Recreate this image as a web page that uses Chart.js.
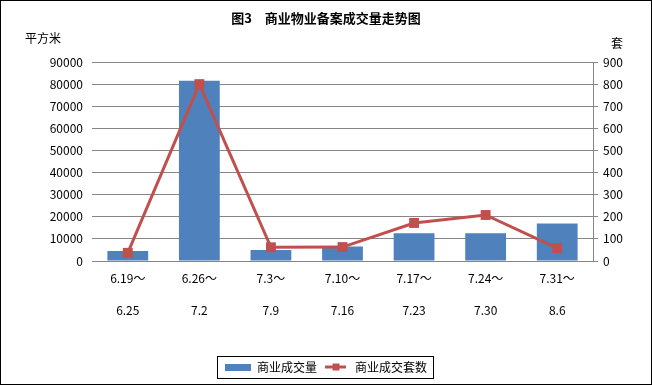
<!DOCTYPE html>
<html>
<head>
<meta charset="utf-8">
<script src="https://cdn.jsdelivr.net/npm/chart.js@4/dist/chart.umd.min.js"></script>
<style>
  html, body { margin: 0; padding: 0; background: #fff; }
  #wrap { width: 652px; height: 385px; }
</style>
</head>
<body>
<div id="wrap"><canvas id="chart" width="652" height="385"></canvas></div>
<script>
let startLabels = ["6.19～", "6.26～", "7.3～", "7.10～", "7.17～", "7.24～", "7.31～"]
let endLabels = ["6.25", "7.2", "7.9", "7.16", "7.23", "7.30", "8.6"]
let areaValues = [4500, 81500, 5000, 6600, 12500, 12500, 17000]
let unitValues = [37, 800, 62, 63, 172, 208, 58]

let blue = "#4F81BD"
let red = "#C0504D"
let gridGray = "#868686"
let font = "'Noto Sans CJK SC', 'Liberation Sans', sans-serif"

// small legend icons
function makeIcon(w, h, draw) {
    let c = document.createElement("canvas")
    c.width = w
    c.height = h
    draw(c.getContext("2d"))
    return c
}
let barIcon = makeIcon(26, 7, (g) => {
    g.fillStyle = blue
    g.fillRect(0, 0, 26, 7)
})
let lineIcon = makeIcon(21, 9, (g) => {
    g.fillStyle = red
    g.fillRect(0, 3, 21, 3)
    g.fillRect(7, 1, 7, 7)
})

let extras = {
    id: "extras",
    afterDraw(chart) {
        let ctx = chart.ctx
        ctx.save()
        ctx.fillStyle = "#000"
        ctx.font = "bold 13px " + font
        ctx.textAlign = "center"
        ctx.textBaseline = "middle"
        ctx.fillText("图3　商业物业备案成交量走势图", 326, 18)
        ctx.font = "12px " + font
        ctx.textAlign = "left"
        ctx.fillText("平方米", 25, 38)
        ctx.fillText("套", 611, 43)

        // legend frame
        let boxes = chart.legend.legendHitBoxes
        if (boxes && boxes.length) {
            let l = Math.min(...boxes.map(b => b.left)) - 8
            let r = Math.max(...boxes.map(b => b.left + b.width)) + 6
            let t = Math.min(...boxes.map(b => b.top)) - 5
            let bt = Math.max(...boxes.map(b => b.top + b.height)) + 5
            ctx.strokeStyle = "#000"
            ctx.lineWidth = 1
            ctx.strokeRect(Math.round(l) + 0.5, Math.round(t) + 0.5, Math.round(r - l), Math.round(bt - t))
        }

        // outer frame
        ctx.strokeStyle = "#000"
        ctx.strokeRect(0.5, 0.5, 651, 384)
        ctx.restore()
    }
}

let chartData = {
    labels: startLabels.map((s, i) => [s, endLabels[i]]),
    datasets: [
        {
            type: "bar",
            label: "商业成交量",
            data: areaValues,
            backgroundColor: blue,
            yAxisID: "y",
            barPercentage: 0.57,
            categoryPercentage: 1,
            order: 1,
        },
        {
            type: "line",
            label: "商业成交套数",
            data: unitValues,
            borderColor: red,
            backgroundColor: red,
            borderWidth: 3,
            pointStyle: "rect",
            pointRadius: 7,
            pointHoverRadius: 7,
            pointBackgroundColor: red,
            pointBorderColor: red,
            pointBorderWidth: 0,
            yAxisID: "y2",
            tension: 0,
            order: 0,
        },
    ],
}

let plainNumber = (v) => String(v)

let chartOptions = {
    responsive: false,
    animation: false,
    layout: {
        padding: { top: 62, left: 0, right: 0, bottom: 2 },
    },
    plugins: {
        title: { display: false },
        tooltip: { enabled: false },
        legend: {
            position: "bottom",
            labels: {
                usePointStyle: true,
                pointStyleWidth: 26,
                padding: 6,
                color: "#000",
                font: { family: font, size: 12 },
                generateLabels(chart) {
                    let items = Chart.defaults.plugins.legend.labels.generateLabels(chart)
                    items.sort((a, b) => a.datasetIndex - b.datasetIndex)
                    items.forEach(it => {
                        it.pointStyle = it.datasetIndex === 0 ? barIcon : lineIcon
                    })
                    return items
                },
            },
        },
    },
    scales: {
        x: {
            grid: { display: false, drawTicks: false },
            border: { display: true, color: gridGray },
            ticks: {
                color: "#000",
                padding: 1,
                maxRotation: 0,
                autoSkip: false,
                font: { family: font, size: 12, lineHeight: 2.67 },
            },
            afterFit(scale) { scale.height = 94 },
        },
        y: {
            position: "left",
            min: 0,
            max: 90000,
            grid: { color: gridGray, drawTicks: false },
            border: { display: false },
            ticks: {
                stepSize: 10000,
                color: "#000",
                padding: 9,
                callback: plainNumber,
                font: { family: font, size: 12 },
            },
            afterFit(scale) { scale.width = 92 },
        },
        y2: {
            position: "right",
            min: 0,
            max: 900,
            grid: { drawOnChartArea: false, color: gridGray, tickLength: 5 },
            border: { display: true, color: gridGray },
            ticks: {
                stepSize: 100,
                color: "#000",
                padding: 5,
                callback: plainNumber,
                font: { family: font, size: 12 },
            },
            afterFit(scale) { scale.width = 59 },
        },
    },
}

let chart = new Chart(document.getElementById("chart"), {
    data: chartData,
    options: chartOptions,
    plugins: [extras],
})
</script>
</body>
</html>
